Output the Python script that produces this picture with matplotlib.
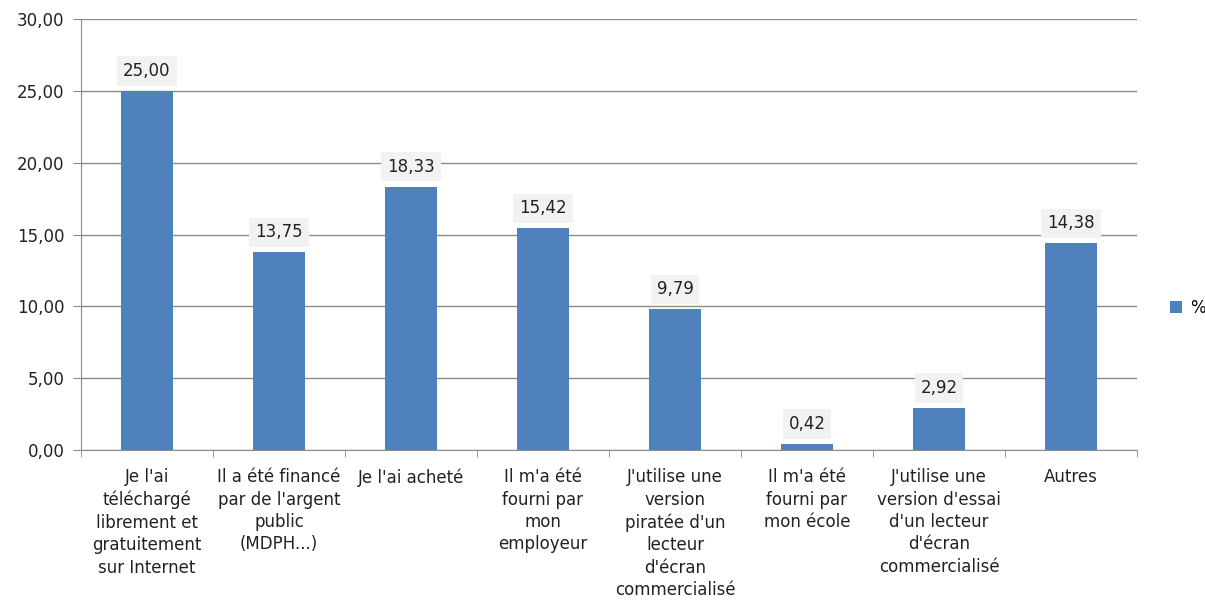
import matplotlib
matplotlib.use("Agg")
import matplotlib.pyplot as plt
import numpy as np

categories = [
    "Je l'ai\ntéléchargé\nlibrement et\ngratuitement\nsur Internet",
    "Il a été financé\npar de l'argent\npublic\n(MDPH...)",
    "Je l'ai acheté",
    "Il m'a été\nfourni par\nmon\nemployeur",
    "J'utilise une\nversion\npiratée d'un\nlecteur\nd'écran\ncommercialisé",
    "Il m'a été\nfourni par\nmon école",
    "J'utilise une\nversion d'essai\nd'un lecteur\nd'écran\ncommercialisé",
    "Autres",
]
values = [25.00, 13.75, 18.33, 15.42, 9.79, 0.42, 2.92, 14.38]
yticks = [0, 5, 10, 15, 20, 25, 30]
series_name = "%"

plt.rcParams['font.family'] = ['DejaVu Sans']
FS = 12
fig = plt.figure(figsize=(12.05, 6.03), dpi=100)
ax = fig.add_axes([81/1205, 1-450/603, (1137-81)/1205, (450-19)/603])

x = np.arange(len(categories))
bars = ax.bar(x, values, width=0.4, color="#4f81bd", label=series_name, zorder=3)

ax.set_xlim(-0.5, len(categories) - 0.5)
ax.set_ylim(0, 30)
ax.set_yticks(yticks)
ax.set_yticklabels([f"{v:.2f}".replace(".", ",") for v in yticks], fontsize=FS, color="#222222")
ax.yaxis.grid(True, color="#8c8c8c", linewidth=1, zorder=0)
ax.tick_params(axis='y', length=6, color="#8c8c8c", pad=6)

ax.set_xticks(x)
ax.set_xticklabels(categories, fontsize=FS, color="#222222", linespacing=1.32, va='top')
ax.tick_params(axis='x', length=0, pad=13)
ax.set_xticks(np.arange(len(categories) + 1) - 0.5, minor=True)
ax.tick_params(axis='x', which='minor', length=5, color="#8c8c8c")

for s in ['top', 'right']:
    ax.spines[s].set_visible(False)
for s in ['left', 'bottom']:
    ax.spines[s].set_color("#8c8c8c")

for xi, v in zip(x, values):
    ax.annotate(f"{v:.2f}".replace(".", ","), (xi, v), xytext=(0, 20), textcoords='offset pixels',
                ha='center', va='center', fontsize=FS, color="#222222",
                bbox=dict(boxstyle='square,pad=0.35', fc="#f2f2f2", ec='none'), zorder=4)

fig.legend(handles=[bars], labels=[series_name], loc='center left', bbox_to_anchor=(1170/1205, 1-308/603),
           frameon=False, fontsize=FS, handlelength=0.7, handleheight=0.7, handletextpad=0.5,
           borderpad=0, borderaxespad=0)

fig.savefig("out.png", dpi=100)
